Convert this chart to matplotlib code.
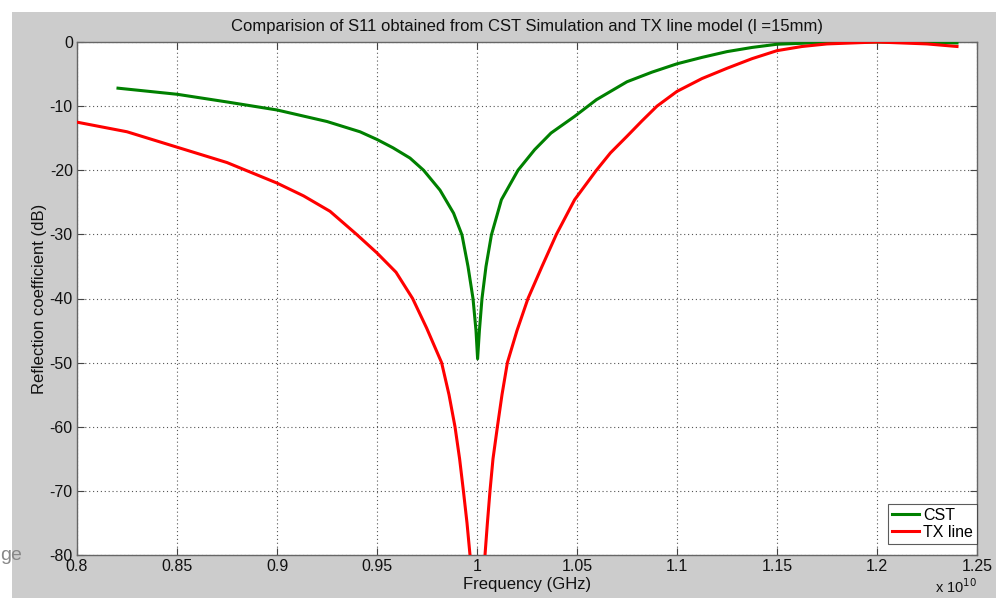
import numpy as np
import matplotlib
matplotlib.use("Agg")
import matplotlib.pyplot as plt
from matplotlib.ticker import FuncFormatter
from matplotlib.patches import Rectangle

plt.rcParams['font.family'] = ['Liberation Sans', 'DejaVu Sans']

# ---- data (frequency in units of 1e10 Hz, S11 in dB) ----
cst_f = [0.8205, 0.85, 0.875, 0.9, 0.925, 0.9415, 0.95, 0.958, 0.9665, 0.9733,
         0.9815, 0.9883, 0.9925, 0.9955, 0.998, 0.9995, 1.0003, 1.0012, 1.0025,
         1.0045, 1.0072, 1.0122, 1.0205, 1.0288, 1.037, 1.0488, 1.0597, 1.075,
         1.0875, 1.1, 1.1125, 1.125, 1.1375, 1.15, 1.175, 1.2, 1.225, 1.24]
cst_db = [-7.2, -8.15, -9.35, -10.6, -12.4, -14.0, -15.2, -16.5, -18.1, -20.0,
          -23.1, -26.7, -30.1, -35.0, -40.0, -45.0, -49.4, -45.0, -40.0,
          -35.0, -30.1, -24.6, -20.0, -16.8, -14.2, -11.6, -9.0, -6.2,
          -4.7, -3.4, -2.4, -1.5, -0.85, -0.35, -0.05, 0.0, -0.05, -0.15]

tx_f = [0.8, 0.825, 0.85, 0.875, 0.9, 0.9133, 0.9265, 0.9398, 0.95, 0.9595,
        0.9678, 0.9748, 0.9823, 0.986, 0.989, 0.9913, 0.9932, 0.995, 0.9965,
        1.0003, 1.004, 1.0052, 1.0065, 1.008, 1.0102, 1.0125, 1.0152, 1.02,
        1.0255, 1.0325, 1.0397, 1.0488, 1.0597, 1.0667, 1.075, 1.0825, 1.09,
        1.1, 1.1125, 1.125, 1.1375, 1.15, 1.1625, 1.175, 1.2, 1.225, 1.24]
tx_db = [-12.5, -14.0, -16.4, -18.8, -22.0, -24.0, -26.4, -30.0, -32.9, -35.9,
         -40.0, -44.6, -50.0, -55.0, -60.0, -65.0, -70.0, -75.0, -80.0,
         -100.0, -80.0, -75.0, -70.0, -65.0, -60.0, -55.0, -50.0, -45.0,
         -40.0, -35.0, -30.0, -24.6, -20.0, -17.3, -14.7, -12.3, -10.0,
         -7.7, -5.7, -4.1, -2.6, -1.35, -0.7, -0.3, 0.0, -0.3, -0.7]

x_ticks = [0.8, 0.85, 0.9, 0.95, 1.0, 1.05, 1.1, 1.15, 1.2, 1.25]
y_ticks = [0, -10, -20, -30, -40, -50, -60, -70, -80]

SCALE = 1e10

fig = plt.figure(figsize=(9.96, 5.98), dpi=100)
fig.patch.set_facecolor('white')
# grey MATLAB figure area (screenshot leaves a white strip at left/top)
fig.patches.append(Rectangle((12 / 996, 0), 1, (598 - 12) / 598,
                             transform=fig.transFigure, facecolor='#cccccc',
                             edgecolor='none', zorder=-10))

ax = fig.add_axes([77 / 996, 43 / 598, 900 / 996, 513 / 598])
ax.set_facecolor('white')

ax.plot(np.array(cst_f) * SCALE, cst_db, color='#008000', lw=2.2,
        label='CST', zorder=3, solid_joinstyle='round')
ax.plot(np.array(tx_f) * SCALE, tx_db, color='#ff0000', lw=2.2,
        label='TX line', zorder=3, solid_joinstyle='round')

ax.set_xlim(0.8 * SCALE, 1.25 * SCALE)
ax.set_ylim(-80, 0)
ax.set_xticks(np.array(x_ticks) * SCALE)
ax.set_yticks(y_ticks)
ax.xaxis.set_major_formatter(FuncFormatter(lambda v, p: ('%g' % round(v / SCALE, 4))))
ax.yaxis.set_major_formatter(FuncFormatter(lambda v, p: '%d' % round(v)))

ax.grid(True, color='#555555', linestyle=(0, (1, 2.5)), linewidth=0.8)
ax.tick_params(direction='in', top=True, right=True, length=5,
               color='#444444', labelsize=11.5, labelcolor='#111111', pad=3)
for s in ax.spines.values():
    s.set_color('#666666')
    s.set_linewidth(1.0)

ax.set_title('Comparision of S11 obtained from CST Simulation and TX line model (l =15mm)',
             fontsize=12, color='#111111', pad=8)
ax.set_xlabel('Frequency (GHz)', fontsize=12, color='#111111', labelpad=2)
ax.set_ylabel('Reflection coefficient (dB)', fontsize=12, color='#111111', labelpad=2)

fig.text(935 / 996, 2 / 598, 'x 10$^{10}$', fontsize=10.5, color='#111111',
         ha='left', va='bottom')

leg = ax.legend(loc='lower right', bbox_to_anchor=(1.0, 11 / 513),
                fontsize=11.5, frameon=True, fancybox=False,
                edgecolor='#333333', handlelength=1.7, handletextpad=0.25,
                borderpad=0.25, labelspacing=0.15, borderaxespad=0.0)
leg.get_frame().set_linewidth(0.8)

# partially cut text at the left edge of the screenshot
fig.text(0.0, 1 - 555 / 598, 'ge', fontsize=14, color='#888888',
         ha='left', va='center')

fig.savefig('out.png', dpi=100, facecolor=fig.get_facecolor())
